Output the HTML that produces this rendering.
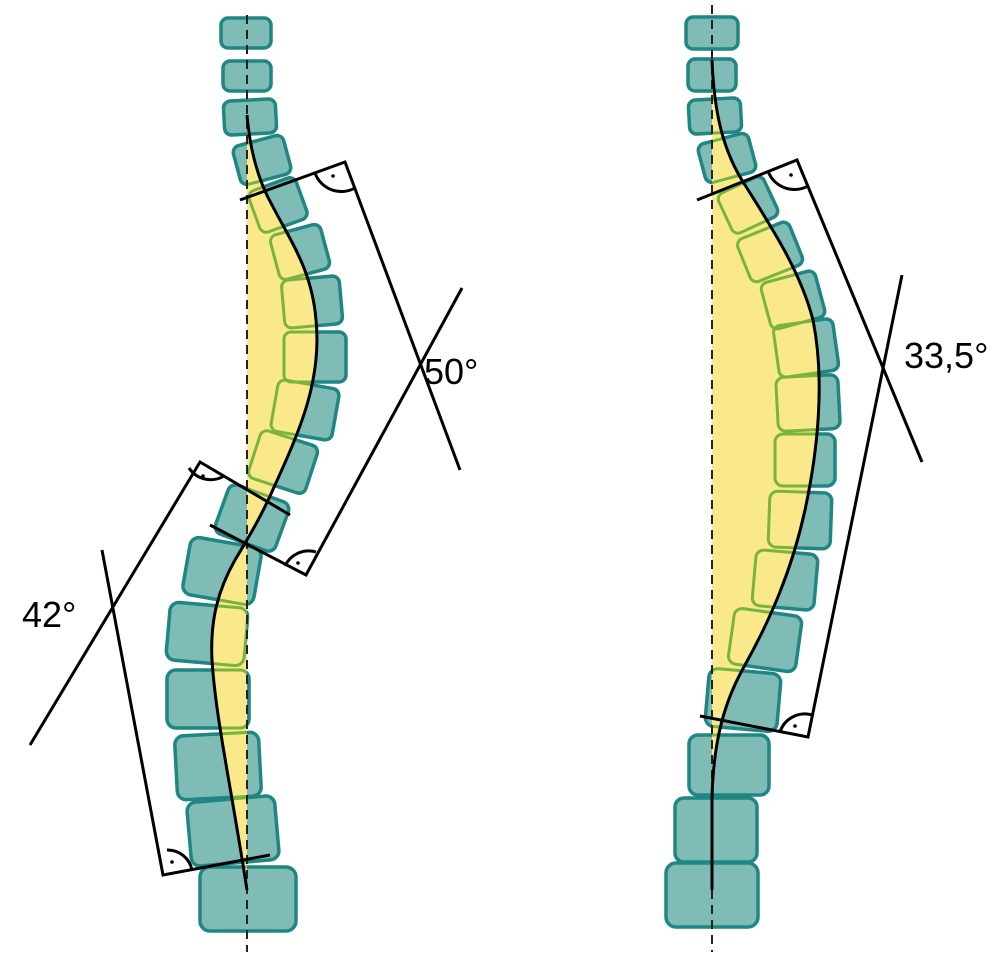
<!DOCTYPE html>
<html><head><meta charset="utf-8"><style>html,body{margin:0;padding:0;background:#fff}svg{display:block}</style></head>
<body>
<svg width="1000" height="956" viewBox="0 0 1000 956" xmlns="http://www.w3.org/2000/svg">
<defs>
<g id="vl">
<rect x="-25" y="-15" width="50" height="30" rx="7" transform="translate(246,33)"/>
<rect x="-24" y="-15" width="48" height="30" rx="7" transform="translate(247,76)"/>
<rect x="-26" y="-17" width="52" height="34" rx="7" transform="translate(250,117) rotate(-3)"/>
<rect x="-26" y="-20" width="52" height="40" rx="7" transform="translate(262,160) rotate(-15)"/>
<rect x="-25" y="-22" width="50" height="44" rx="7" transform="translate(278,205) rotate(-20)"/>
<rect x="-26" y="-23" width="52" height="46" rx="7" transform="translate(300,252) rotate(-15)"/>
<rect x="-29" y="-24" width="58" height="48" rx="7" transform="translate(312,302) rotate(-5)"/>
<rect x="-31" y="-25" width="62" height="50" rx="7" transform="translate(315,357)"/>
<rect x="-31" y="-26" width="62" height="52" rx="7" transform="translate(305,410) rotate(10)"/>
<rect x="-30" y="-25" width="60" height="50" rx="7" transform="translate(283,462) rotate(18)"/>
<rect x="-32" y="-26" width="64" height="52" rx="8" transform="translate(252,518) rotate(20)"/>
<rect x="-36" y="-29" width="72" height="58" rx="9" transform="translate(222,571) rotate(10)"/>
<rect x="-39" y="-29" width="78" height="58" rx="9" transform="translate(207,634) rotate(5)"/>
<rect x="-41" y="-29" width="82" height="58" rx="9" transform="translate(208,699)"/>
<rect x="-42" y="-32" width="84" height="64" rx="9" transform="translate(218,766) rotate(-3)"/>
<rect x="-44" y="-32" width="88" height="64" rx="9" transform="translate(233,831) rotate(-5)"/>
<rect x="-48" y="-32" width="96" height="64" rx="10" transform="translate(248,899)"/>
</g>
<g id="vr">
<rect x="-26" y="-16" width="52" height="32" rx="7" transform="translate(712,33)"/>
<rect x="-24" y="-16" width="48" height="32" rx="7" transform="translate(712,75)"/>
<rect x="-26" y="-17" width="52" height="34" rx="7" transform="translate(715,116) rotate(-3)"/>
<rect x="-26" y="-20" width="52" height="40" rx="7" transform="translate(727,158) rotate(-15)"/>
<rect x="-25" y="-22" width="50" height="44" rx="7" transform="translate(748,205) rotate(-25)"/>
<rect x="-28" y="-23" width="56" height="46" rx="7" transform="translate(770,252) rotate(-22)"/>
<rect x="-28" y="-24" width="56" height="48" rx="7" transform="translate(793,300) rotate(-15)"/>
<rect x="-30" y="-26" width="60" height="52" rx="7" transform="translate(806,348) rotate(-8)"/>
<rect x="-31" y="-27" width="62" height="54" rx="8" transform="translate(808,403) rotate(-3)"/>
<rect x="-30" y="-26" width="60" height="52" rx="8" transform="translate(805,460)"/>
<rect x="-31" y="-28" width="62" height="56" rx="8" transform="translate(800,520) rotate(2)"/>
<rect x="-31" y="-28" width="62" height="56" rx="8" transform="translate(785,580) rotate(5)"/>
<rect x="-34" y="-28" width="68" height="56" rx="8" transform="translate(765,640) rotate(8)"/>
<rect x="-36" y="-29" width="72" height="58" rx="9" transform="translate(743,700) rotate(5)"/>
<rect x="-40" y="-30" width="80" height="60" rx="9" transform="translate(729,765)"/>
<rect x="-41" y="-32" width="82" height="64" rx="9" transform="translate(716,830)"/>
<rect x="-46" y="-32" width="92" height="64" rx="10" transform="translate(712,895)"/>
</g>
<clipPath id="cl"><path id="yl" d="M247,115 C250,150 258,180 272,205 C290,240 312,270 316,320 C322,380 300,430 275,485 C262,515 250,535 235,560 C218,590 210,620 212,660 C216,720 230,780 247,890 Z"/></clipPath>
<clipPath id="cr"><path id="yr" d="M712,60 C714,110 722,150 745,185 C770,225 800,270 813,320 C825,380 818,450 805,510 C792,570 770,620 745,665 C725,700 713,740 712,800 L712,890 Z"/></clipPath>
</defs>
<g fill="#7fbcb6" stroke="#1f8683" stroke-width="3.5"><use href="#vl"/><use href="#vr"/></g>
<use href="#yl" fill="#f9e98a"/><use href="#yr" fill="#f9e98a"/>
<g fill="none" stroke="#7ab33f" stroke-width="3"><g clip-path="url(#cl)"><use href="#vl"/></g><g clip-path="url(#cr)"><use href="#vr"/></g></g>
<g stroke="#222" stroke-width="2" stroke-dasharray="9,6"><line x1="247" y1="15" x2="247" y2="952"/><line x1="712" y1="5" x2="712" y2="952"/></g>
<g fill="none" stroke="#000" stroke-width="3">
<path d="M247,115 C250,150 258,180 272,205 C290,240 312,270 316,320 C322,380 300,430 275,485 C262,515 250,535 235,560 C218,590 210,620 212,660 C216,720 230,780 247,890"/>
<path d="M712,60 C714,110 722,150 745,185 C770,225 800,270 813,320 C825,380 818,450 805,510 C792,570 770,620 745,665 C725,700 713,740 712,800 L712,890"/>
<polyline points="240,200 345,162 460,470"/>
<polyline points="210,525 306,575 462,288"/>
<polyline points="290,515 200,462 30,745"/>
<polyline points="270,855 163,875 102,550"/>
<polyline points="697,200 797,160 922,462"/>
<polyline points="700,716 808,737 902,275"/>
<path d="M315,173 A28,28 0 0 0 355,188"/>
<path d="M285,566 A26,26 0 0 1 316,552"/>
<path d="M189,468 A26,26 0 0 0 224,476"/>
<path d="M167,850 A25,25 0 0 1 192,870"/>
<path d="M768,171 A28,28 0 0 0 808,186"/>
<path d="M780,732 A26,26 0 0 1 812,715"/>
</g>
<g fill="#000"><circle cx="333" cy="176" r="1.8"/><circle cx="298" cy="563" r="1.8"/><circle cx="203" cy="476" r="1.8"/><circle cx="172" cy="862" r="1.8"/><circle cx="791" cy="175" r="1.8"/><circle cx="795" cy="726" r="1.8"/></g>
<g font-family="Liberation Sans, sans-serif" font-size="36" fill="#000">
<text x="424" y="384">50°</text><text x="22" y="627">42°</text><text x="904" y="368">33,5°</text>
</g>
</svg>
</body></html>
